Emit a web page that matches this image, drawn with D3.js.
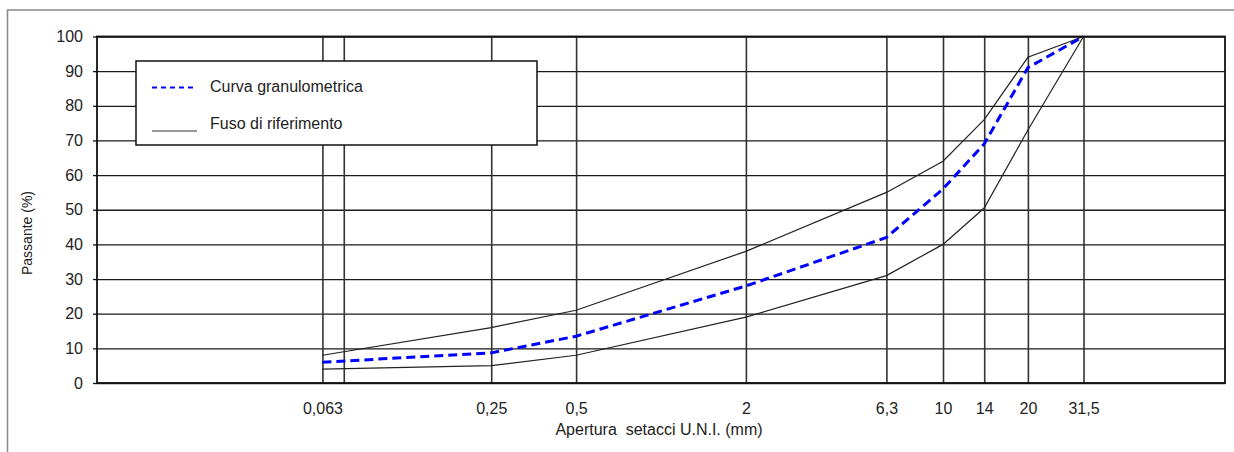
<!DOCTYPE html>
<html>
<head>
<meta charset="utf-8">
<script src="https://cdn.jsdelivr.net/npm/d3@7"></script>
<style>
  html, body { margin: 0; padding: 0; background: #fff; }
  svg { display: block; }
  text { font-family: "Liberation Sans", Arial, Helvetica, sans-serif; fill: #222; }
</style>
</head>
<body>
<svg id="chart" width="1234" height="452"></svg>
<script>
// Sieve openings (mm) with labels, plus unlabeled grid sieve
const sieves = [0.063, 0.25, 0.5, 2, 6.3, 10, 14, 20, 31.5];
const sieveLabels = ["0,063", "0,25", "0,5", "2", "6,3", "10", "14", "20", "31,5"];
const gridSieves = [0.063, 0.075, 0.25, 0.5, 2, 6.3, 10, 14, 20, 31.5];

// Passing percentages
const curva = [6, 8.7, 13.5, 28, 42, 56, 69, 91, 100];
const fusoSup = [8, 16, 21, 38, 55, 64, 76, 94, 100];
const fusoInf = [4, 5, 8, 19, 31, 40, 50.5, 73, 100];

const yTicks = [0, 10, 20, 30, 40, 50, 60, 70, 80, 90, 100];

const legendLabels = ["Curva granulometrica", "Fuso di riferimento"];
const xTitle = "Apertura  setacci U.N.I. (mm)";
const yTitle = "Passante (%)";

const svg = d3.select("#chart");
const plotL = 97, plotR = 1225, plotT = 36.5, plotB = 383;

const x = d3.scaleLog().domain([0.01, 100]).range([plotL, plotR]);
const y = d3.scaleLinear().domain([0, 100]).range([plotB, plotT]);

// outer frame of the figure
svg.append("path")
  .attr("d", "M7.5,452 L7.5,10 L1234,10")
  .attr("fill", "none")
  .attr("stroke", "#888")
  .attr("stroke-width", 1.5);

// horizontal grid
svg.append("g")
  .attr("transform", `translate(${plotL},0)`)
  .call(d3.axisLeft(y).tickValues(yTicks).tickSize(-(plotR - plotL)).tickFormat(""))
  .call(g => g.select(".domain").remove())
  .call(g => g.selectAll("line").attr("stroke", "#1a1a1a").attr("stroke-width", 1.3));

// vertical grid at sieve openings
svg.append("g")
  .attr("transform", `translate(0,${plotB})`)
  .call(d3.axisBottom(x).tickValues(gridSieves).tickSize(-(plotB - plotT)).tickFormat(""))
  .call(g => g.select(".domain").remove())
  .call(g => g.selectAll("line").attr("stroke", "#333").attr("stroke-width", 1.6));

// y axis ticks and labels
svg.append("g")
  .attr("transform", `translate(${plotL},0)`)
  .call(d3.axisLeft(y).tickValues(yTicks).tickSize(4).tickPadding(10))
  .call(g => g.select(".domain").remove())
  .call(g => g.selectAll("line").attr("stroke", "#111").attr("stroke-width", 1.3))
  .call(g => g.selectAll("text").attr("font-size", 16).attr("fill", "#222")
    .attr("font-family", "'Liberation Sans', Arial, sans-serif"));

// x axis labels
svg.append("g")
  .attr("transform", `translate(0,${plotB})`)
  .call(d3.axisBottom(x).tickValues(sieves).tickSize(0).tickPadding(19.5)
    .tickFormat((d, i) => sieveLabels[i]))
  .call(g => g.select(".domain").remove())
  .call(g => g.selectAll("text").attr("font-size", 16).attr("fill", "#222")
    .attr("font-family", "'Liberation Sans', Arial, sans-serif"));

// axis titles
svg.append("text")
  .attr("x", (plotL + plotR) / 2 - 2)
  .attr("y", 434.5)
  .attr("text-anchor", "middle")
  .attr("font-size", 16)
  .style("white-space", "pre")
  .text(xTitle);

svg.append("text")
  .attr("transform", "translate(31.7,233) rotate(-90)")
  .attr("text-anchor", "middle")
  .attr("font-size", 14)
  .text(yTitle);

// legend
const legend = svg.append("g");
legend.append("rect")
  .attr("x", 136).attr("y", 61).attr("width", 401).attr("height", 84)
  .attr("fill", "#fff").attr("stroke", "#111").attr("stroke-width", 1.5);
legend.append("line")
  .attr("x1", 152).attr("x2", 197).attr("y1", 87.5).attr("y2", 87.5)
  .attr("stroke", "#0000ff").attr("stroke-width", 2.2).attr("stroke-dasharray", "5,4");
legend.append("text").attr("x", 210).attr("y", 91.5).attr("font-size", 16).text(legendLabels[0]);
legend.append("line")
  .attr("x1", 152).attr("x2", 197).attr("y1", 131).attr("y2", 131)
  .attr("stroke", "#777").attr("stroke-width", 1.5);
legend.append("text").attr("x", 210).attr("y", 129).attr("font-size", 16).text(legendLabels[1]);

// series lines
const line = d3.line().x((d, i) => x(sieves[i])).y(d => y(d));

[fusoSup, fusoInf].forEach(s => {
  svg.append("path")
    .datum(s)
    .attr("d", line)
    .attr("fill", "none")
    .attr("stroke", "#222")
    .attr("stroke-width", 1.2);
});

svg.append("path")
  .datum(curva)
  .attr("d", line)
  .attr("fill", "none")
  .attr("stroke", "#0000ff")
  .attr("stroke-width", 3)
  .attr("stroke-dasharray", "9,5");

// plot frame
svg.append("rect")
  .attr("x", plotL).attr("y", plotT)
  .attr("width", plotR - plotL).attr("height", plotB - plotT)
  .attr("fill", "none").attr("stroke", "#111").attr("stroke-width", 1.8);
</script>
</body>
</html>
